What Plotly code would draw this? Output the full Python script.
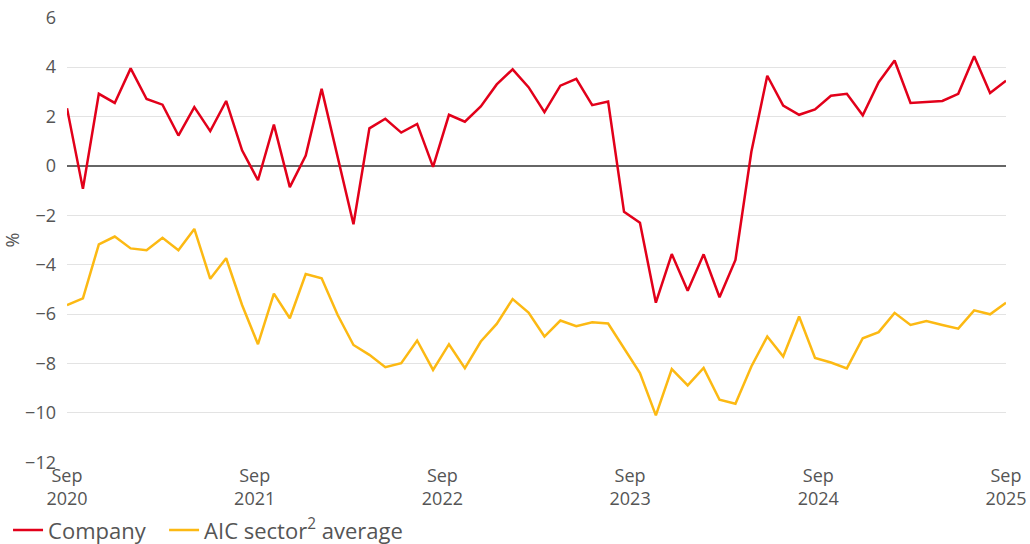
import pandas as pd
import plotly.graph_objects as go

# monthly readings, Sep 2020 -> Sep 2025 (60 evenly spaced points)
dates = pd.date_range("2020-09-01", "2025-09-01", periods=60)

company = [
    2.34, -0.93, 2.92, 2.55, 3.95, 2.71, 2.48, 1.23, 2.38, 1.41,
    2.63, 0.63, -0.58, 1.67, -0.86, 0.42, 3.12, 0.40, -2.36, 1.52,
    1.91, 1.35, 1.70, -0.04, 2.07, 1.79, 2.41, 3.30, 3.91, 3.19,
    2.18, 3.25, 3.53, 2.46, 2.61, -1.86, -2.30, -5.54, -3.57, -5.05,
    -3.58, -5.32, -3.81, 0.57, 3.65, 2.44, 2.07, 2.29, 2.84, 2.92,
    2.05, 3.39, 4.27, 2.55, 2.60, 2.63, 2.92, 4.44, 2.95, 3.45,
]

sector_avg = [
    -5.64, -5.36, -3.18, -2.86, -3.34, -3.41, -2.91, -3.41, -2.55, -4.57,
    -3.74, -5.63, -7.22, -5.17, -6.17, -4.38, -4.55, -6.03, -7.25, -7.65,
    -8.15, -7.99, -7.07, -8.26, -7.22, -8.19, -7.11, -6.40, -5.39, -5.94,
    -6.91, -6.26, -6.49, -6.33, -6.38, -7.38, -8.39, -10.10, -8.23, -8.89,
    -8.18, -9.47, -9.63, -8.12, -6.91, -7.72, -6.10, -7.78, -7.96, -8.20,
    -6.98, -6.73, -5.95, -6.44, -6.28, -6.44, -6.59, -5.85, -6.01, -5.54,
]

series_names = ["Company", "AIC sector<sup>2</sup> average"]
series_colors = ["#e2001a", "#fcb913"]

fig = go.Figure()
for i, (name, vals, col) in enumerate(zip(series_names, [company, sector_avg], series_colors)):
    fig.add_trace(go.Scatter(x=dates, y=vals, name=name, mode="lines",
                             line=dict(color=col, width=2.5), showlegend=True,
                             legend="legend" if i == 0 else "legend2"))

# two single-entry legends so the second item can be placed freely
leg = dict(orientation="h", xref="container", yref="container",
           y=0.064, xanchor="left", yanchor="top", itemwidth=30,
           font=dict(size=22, color="#555555"))
fig.update_layout(
    width=1030, height=544,
    margin=dict(l=67, r=24, t=17, b=81),
    paper_bgcolor="white", plot_bgcolor="white",
    font=dict(family="Open Sans", size=18, color="#555555"),
    showlegend=True,
    legend=dict(leg, x=0.0078),
    legend2=dict(leg, x=0.1593),
)
fig.update_xaxes(
    type="date", range=["2020-09-01", "2025-09-01"],
    tickformat="%b<br>%Y", dtick="M12", tick0="2020-09-01",
    showgrid=False, showline=False, zeroline=False, ticks="",
    automargin=False, ticklabelstandoff=0, ticklabeloverflow="allow",
)
fig.update_yaxes(
    range=[-12.03, 6.03], dtick=2, tick0=0, tickformat="d",
    title=dict(text="%", standoff=3, font=dict(size=18)),
    gridcolor="#e3e3e3", gridwidth=1,
    zeroline=True, zerolinecolor="#666666", zerolinewidth=1.5,
    ticks="", showline=False, automargin=False, ticklabelstandoff=10,
    ticklabeloverflow="allow",
)

# drop the default 8px body margin so the figure sits at the window's corner
fig.write_html("out.html", config={"displayModeBar": False},
               post_script="document.body.style.margin='0';")
